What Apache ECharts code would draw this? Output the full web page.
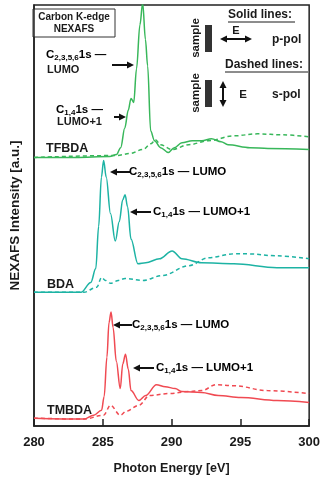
<!DOCTYPE html>
<html><head><meta charset="utf-8">
<script src="https://cdn.jsdelivr.net/npm/echarts@6/dist/echarts.min.js"></script>
<style>html,body{margin:0;padding:0;background:#fff}#c{width:323px;height:480px}</style>
</head><body><div id="c"></div>
<script>
// Energies [eV] and intensities (arbitrary units, stacked offsets as in the figure)
const tfbdaSolidE = [280,283,285.5,286.0,286.3,286.6,286.85,287.05,287.25,287.45,287.7,287.9,288.1,288.26,288.48,288.76,289.2,289.76,290.2,290.75,291.5,292.2,292.9,293.6,294.1,295.7,297,300];
const tfbdaSolidI = [273,273,274,276,283,303,321,333,329,363,408,430,393,366,300,290,283,278,283,288,290,290,292,289,286,283,282,281];
const tfbdaDashE = [280,286.0,286.98,287.9,288.5,288.83,289.19,290.04,291.25,292.68,294.53,296.24,298.09,300];
const tfbdaDashI = [273,275,277,281,287,291,286,281,286,290,295,297,296,294];

const bdaSolidE = [280,283.42,284.13,284.49,284.7,284.9,285.06,285.25,285.56,285.91,286.2,286.45,286.62,286.8,287.05,287.55,288.12,289.12,290.04,290.75,292.18,294.53,297.66,300];
const bdaSolidI = [136,136,146,160,203,253,270,253,216,188,208,230,235,223,190,165,166,170,178,170,166,165,161,161];
const bdaDashE = [280,283.63,284.56,284.91,285.2,285.56,286.13,286.62,287.91,289.33,291.25,292.68,294.53,295.53,297.66,300];
const bdaDashI = [136,136,141,151,148,145,148,150,148,153,163,171,175,175,173,170];

const tmbdaSolidE = [280,283.63,284.34,284.91,285.1,285.3,285.45,285.6,285.75,285.98,286.27,286.45,286.65,286.85,287.05,287.62,288.12,288.9,289.54,290.26,290.75,292.18,293.39,295.03,297.66,300];
const tmbdaSolidI = [8,7,11,16,30,70,105,116,100,66,38,63,73,58,36,26,31,42,40,38,35,34,31,29,26,24];
const tmbdaDashE = [280,283.63,285.06,285.56,286.27,286.7,287.62,288.4,289.83,291.25,292.18,293.25,294.53,296.95,300];
const tmbdaDashI = [8,7,11,21,11,15,21,31,33,35,36,42,41,36,33];

const xTicks = [280,285,290,295,300];
const colors = ['#38b75a','#1db3a4','#f04a52'];

const zip = (a,b)=>a.map((v,i)=>[v,b[i]]);
const FONT = 'Liberation Sans, Arial, sans-serif';
const TXT = '#1a1a1a';

function lineSeries(E,I,color,dashed){
  return {type:'line',data:zip(E,I),symbol:'none',smooth:0.35,smoothMonotone:'x',
    lineStyle:{color:color,width:1.5,type:dashed?[4,3]:'solid'},z:3};
}

const chart = echarts.init(document.getElementById('c'),null,{renderer:'canvas'});

function arrow(x1,y1,x2,y2){ // head at (x2,y2)
  const dx=x2-x1, dy=y2-y1, L=Math.hypot(dx,dy), ux=dx/L, uy=dy/L;
  const hl=7, hw=3.5;
  const bx=x2-ux*hl, by=y2-uy*hl;
  return [
    {type:'line',shape:{x1:x1,y1:y1,x2:bx,y2:by},style:{stroke:'#111',lineWidth:2}},
    {type:'polygon',shape:{points:[[x2,y2],[bx-uy*hw,by+ux*hw],[bx+uy*hw,by-ux*hw]]},style:{fill:'#111'}}
  ];
}
function dblArrow(x1,y1,x2,y2){
  const mx=(x1+x2)/2,my=(y1+y2)/2;
  return arrow(mx,my,x1,y1).concat(arrow(mx,my,x2,y2));
}
const rich = {
  b:{fontFamily:FONT,fontWeight:'bold',fontSize:11.5,color:TXT},
  s:{fontFamily:FONT,fontWeight:'bold',fontSize:8,color:TXT,padding:[7,0,0,0]}
};
function btext(x,y,text,size,extra){
  return {type:'text',x:x,y:y,style:Object.assign({text:text,fontFamily:FONT,fontWeight:'bold',fontSize:size||10,fill:TXT,textVerticalAlign:'middle'},extra||{})};
}
function sampleText(x,y){
  return {type:'text',x:x,y:y,rotation:Math.PI/2,style:{text:'sample',fontFamily:FONT,fontWeight:'bold',fontSize:11.5,fill:TXT,textAlign:'center',textVerticalAlign:'middle'}};
}

const g = [];
// Top-left box
g.push({type:'rect',shape:{x:33,y:9,width:82,height:28},style:{fill:'#fff',stroke:'#333',lineWidth:1}});
g.push(btext(74,17,'Carbon K-edge',10,{textAlign:'center'}));
g.push(btext(74,29.5,'NEXAFS',10,{textAlign:'center'}));
// TFBDA annotations
g.push({type:'text',x:46,y:47,style:{text:'{b|C}{s|2,3,5,6}{b|1s —}',rich:rich}});
g.push(btext(47,70,'LUMO',11));
g.push(...arrow(112,65,134,65));
g.push({type:'text',x:56,y:102,style:{text:'{b|C}{s|1,4}{b|1s —}',rich:rich}});
g.push(btext(57,122,'LUMO+1',11));
g.push(...arrow(114,117,126,117));
g.push(btext(46,149,'TFBDA',12.5));
// Legend right
g.push(btext(228,15,'Solid lines:',12));
g.push({type:'line',shape:{x1:228,y1:22,x2:295,y2:22},style:{stroke:TXT,lineWidth:1}});
g.push({type:'rect',shape:{x:205,y:25,width:7,height:27},style:{fill:'#333'}});
g.push(sampleText(196,38));
g.push(...dblArrow(220,39,252,39));
g.push(btext(236,31,'E',11,{textAlign:'center'}));
g.push(btext(272,40,'p-pol',12));
g.push(btext(225,65,'Dashed lines:',12));
g.push({type:'line',shape:{x1:225,y1:72,x2:308,y2:72},style:{stroke:TXT,lineWidth:1}});
g.push({type:'rect',shape:{x:205,y:80,width:7,height:27},style:{fill:'#333'}});
g.push(sampleText(196,93));
g.push(...dblArrow(223,81,223,107));
g.push(btext(243,95,'E',11.5,{textAlign:'center'}));
g.push(btext(272,95,'s-pol',12));
// BDA annotations
g.push(...arrow(130,172,110,172));
g.push({type:'text',x:129,y:164,style:{text:'{b|C}{s|2,3,5,6}{b|1s — LUMO}',rich:rich}});
g.push(...arrow(151,212,130,212));
g.push({type:'text',x:153,y:204,style:{text:'{b|C}{s|1,4}{b|1s — LUMO+1}',rich:rich}});
g.push(btext(47,285,'BDA',12.5));
// TMBDA annotations
g.push(...arrow(132,325,113,325));
g.push({type:'text',x:132,y:317,style:{text:'{b|C}{s|2,3,5,6}{b|1s — LUMO}',rich:rich}});
g.push(...arrow(154,368,133,368));
g.push({type:'text',x:156,y:360,style:{text:'{b|C}{s|1,4}{b|1s — LUMO+1}',rich:rich}});
g.push(btext(47,411,'TMBDA',12.5));

chart.setOption({
  animation:false,
  grid:{left:29,right:13,top:5,bottom:47,show:true,borderColor:'#222',borderWidth:1.5,backgroundColor:'transparent'},
  xAxis:{type:'value',min:280,max:300,interval:5,
    axisLine:{show:true,lineStyle:{color:'#222',width:1.5}},
    axisTick:{show:true,inside:true,length:7,lineStyle:{color:'#222',width:1.5}},
    splitLine:{show:false},
    axisLabel:{fontFamily:FONT,fontWeight:'bold',fontSize:13,color:TXT,margin:10,
      formatter:v=>xTicks.includes(v)?String(v):''},
    name:'Photon Energy [eV]',nameLocation:'middle',nameGap:36,
    nameTextStyle:{fontFamily:FONT,fontWeight:'bold',fontSize:12.5,color:TXT}},
  yAxis:{type:'value',min:0,max:428,
    axisLine:{show:true,lineStyle:{color:'#222',width:1.5}},
    axisTick:{show:false},axisLabel:{show:false},splitLine:{show:false},
    name:'NEXAFS Intensity [a.u.]',nameLocation:'middle',nameGap:12,
    nameTextStyle:{fontFamily:FONT,fontWeight:'bold',fontSize:13.5,color:TXT}},
  series:[
    lineSeries(tfbdaSolidE,tfbdaSolidI,colors[0],false),
    lineSeries(tfbdaDashE,tfbdaDashI,colors[0],true),
    lineSeries(bdaSolidE,bdaSolidI,colors[1],false),
    lineSeries(bdaDashE,bdaDashI,colors[1],true),
    lineSeries(tmbdaSolidE,tmbdaSolidI,colors[2],false),
    lineSeries(tmbdaDashE,tmbdaDashI,colors[2],true)
  ],
  graphic:g
});
</script></body></html>
